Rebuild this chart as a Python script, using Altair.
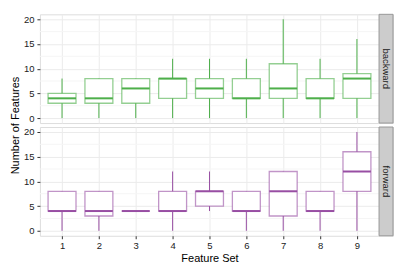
import altair as alt
import pandas as pd

feature_sets = [1, 2, 3, 4, 5, 6, 7, 8, 9]

bw_low = [0, 0, 0, 0, 0, 0, 0, 0, 0]
bw_q1 = [3, 3, 3, 4, 4, 4, 4, 4, 4]
bw_med = [4, 4, 6, 8, 6, 4, 6, 4, 8]
bw_q3 = [5, 8, 8, 8, 8, 8, 11, 8, 9]
bw_high = [8, 8, 8, 12, 12, 12, 20, 12, 16]

fw_low = [0, 0, 4, 0, 4, 0, 0, 0, 0]
fw_q1 = [4, 3, 4, 4, 5, 4, 3, 4, 8]
fw_med = [4, 4, 4, 4, 8, 4, 8, 4, 12]
fw_q3 = [8, 8, 4, 8, 8, 8, 12, 8, 16]
fw_high = [8, 8, 4, 12, 12, 8, 12, 8, 20]

y_major = [0, 5, 10, 15, 20]
y_minor = [2.5, 7.5, 12.5, 17.5]

GREEN = "#4DAF4A"
PURPLE = "#984EA3"
FONT = "Liberation Sans"
W, H = 340, 109
STRIP_W = 14


def make_df(low, q1, med, q3, high):
    return pd.DataFrame({"set": feature_sets, "low": low, "q1": q1,
                         "med": med, "q3": q3, "high": high})


def panel(df, color, bottom, ytitle):
    xscale = alt.Scale(domain=[0.4, 9.6], nice=False, zero=False, padding=0)
    yscale = alt.Scale(domain=[-1, 21], nice=False, zero=False, padding=0)
    xaxis_kw = dict(values=feature_sets, format="d", grid=True, gridColor="#ebebeb",
                    gridWidth=1, domain=False, labels=bottom, ticks=bottom,
                    tickColor="#333333", tickSize=3, labelPadding=2,
                    labelFont=FONT, labelFontSize=9.5, labelColor="#222222",
                    titleFont=FONT, titleFontSize=11, titleFontWeight="normal",
                    titleColor="#000000", titlePadding=2,
                    title="Feature Set" if bottom else "")
    yaxis_kw = dict(values=y_major, grid=True, gridColor="#ebebeb", gridWidth=1,
                    domain=False, tickColor="#333333", tickSize=3, labelPadding=3,
                    labelFont=FONT, labelFontSize=9.5, labelColor="#222222",
                    titleFont=FONT, titleFontSize=11, titleFontWeight="normal",
                    titleColor="#000000", titlePadding=3,
                    title=ytitle)
    if ytitle:
        yaxis_kw["titleY"] = H + 2
    yaxis = alt.Axis(**yaxis_kw)
    xaxis = alt.Axis(**xaxis_kw)

    minor = alt.Chart(pd.DataFrame({"v": y_minor})).mark_rule(
        color="#f5f5f5", strokeWidth=1
    ).encode(y=alt.Y("v:Q", scale=yscale, axis=yaxis))

    base = alt.Chart(df)
    whisk = base.mark_rule(color=color, strokeWidth=1).encode(
        x=alt.X("set:Q", scale=xscale, axis=xaxis),
        y=alt.Y("low:Q", scale=yscale, axis=yaxis),
        y2="high:Q",
    )
    box = base.mark_bar(size=28, fill="white", stroke=color, strokeOpacity=0.6,
                        strokeWidth=1.3).encode(
        x=alt.X("set:Q", scale=xscale, axis=xaxis),
        y=alt.Y("q1:Q", scale=yscale, axis=yaxis),
        y2="q3:Q",
    )
    med = base.mark_tick(orient="horizontal", size=28, thickness=2, color=color,
                         opacity=1).encode(
        x=alt.X("set:Q", scale=xscale, axis=xaxis),
        y=alt.Y("med:Q", scale=yscale, axis=yaxis),
    )
    return alt.layer(minor, whisk, box, med).properties(width=W, height=H)


def strip(label):
    base = alt.Chart(pd.DataFrame({"label": [label]}))
    rect = base.mark_rect(fill="#cccccc", stroke="#999999", strokeWidth=1).encode(
        x=alt.value(0), x2=alt.value(STRIP_W), y=alt.value(0), y2=alt.value(H))
    text = base.mark_text(angle=90, font=FONT, fontSize=9.5, color="#1a1a1a",
                          align="center", baseline="middle").encode(
        x=alt.value(STRIP_W / 2), y=alt.value(H / 2), text="label:N")
    return alt.layer(rect, text).properties(width=STRIP_W, height=H)


bw = make_df(bw_low, bw_q1, bw_med, bw_q3, bw_high)
fw = make_df(fw_low, fw_q1, fw_med, fw_q3, fw_high)

chart = alt.concat(
    panel(bw, GREEN, False, "Number of Features"), strip("backward"),
    panel(fw, PURPLE, True, ""), strip("forward"),
    columns=2, spacing={"row": 4, "column": 0}, bounds="flush",
).properties(
    padding={"left": 0, "top": 5, "right": 5, "bottom": 5}
).configure_view(
    stroke="#888888", strokeWidth=1, fill="white"
).configure(background="white")

chart.save("out.html", embed_options={"renderer": "svg", "actions": False})
